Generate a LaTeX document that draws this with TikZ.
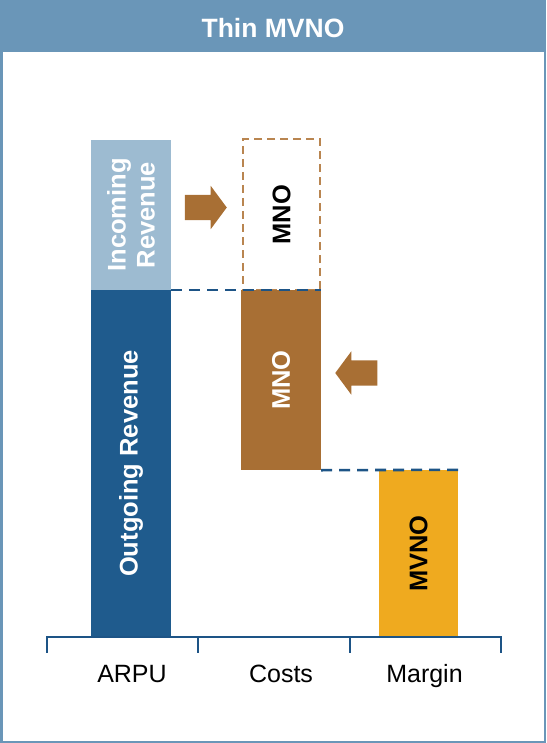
\documentclass[tikz,border=0pt]{standalone}
\usepackage{fontspec}
\setmainfont{Liberation Sans}
\usetikzlibrary{shapes.arrows}

\definecolor{hdrblue}{HTML}{6A96B8}
\definecolor{incblue}{HTML}{9DBBD1}
\definecolor{outblue}{HTML}{1F5B8D}
\definecolor{axisblue}{HTML}{1D5486}
\definecolor{mnobrown}{HTML}{A86F34}
\definecolor{dashbrown}{HTML}{B98550}
\definecolor{mvnoyellow}{HTML}{EFAA1F}

\begin{document}
\begin{tikzpicture}[x=1pt,y=-1pt]

      \tikzset{bar/.style={draw=none, inner sep=0pt, minimum width=80pt},
               bartext/.style={rotate=90, align=center, inner sep=0pt, font=\fontsize{25.5}{29}\selectfont\bfseries},
               push/.style={single arrow, draw=none, fill=mnobrown, inner xsep=0pt, inner ysep=12.5pt,
                            single arrow head extend=9pt, single arrow tip angle=107, minimum height=42pt, anchor=tip},
               level/.style={draw=axisblue, line width=2.6pt, dash pattern=on 11pt off 7pt},
               cat/.style={anchor=base, font=\fontsize{25}{29}\selectfont}}
      \useasboundingbox (0,0) rectangle (546,743);

%% Frame and title
      	\draw[hdrblue, line width=2.5pt] (1.25,1.25) rectangle (544.75,741.75);
      	\fill[hdrblue] (0,0) rectangle (546,52);
      	\node[text=white, font=\fontsize{26.5}{30}\selectfont\bfseries] (title) at (273,28) {Thin MVNO};

%% Bars
      	\node[bar, fill=incblue, minimum height=150pt] (inc) at (131,215) {};
      	\node[bar, fill=outblue, minimum height=347pt] (out) at (131,463.5) {};
      	\node[bar, draw=dashbrown, line width=2pt, dash pattern=on 8pt off 5pt,
      	      minimum width=77pt, minimum height=151pt] (mnoin) at (281.5,214.5) {};
      	\node[bar, fill=mnobrown, minimum height=180pt] (mno) at (281,380) {};
      	\node[bar, fill=mvnoyellow, minimum width=79pt, minimum height=167pt] (mvno) at (418.5,553.5) {};

%% Bar texts
      	\node[bartext, text=white] (inctxt) at (inc.center) {Incoming\\Revenue};
      	\node[bartext, text=white] (outtxt) at (out.center) {Outgoing Revenue};
      	\node[bartext] (mnointxt) at (mnoin.center) {MNO};
      	\node[bartext, text=white] (mnotxt) at (mno.center) {MNO};
      	\node[bartext] (mvnotxt) at (mvno.center) {MVNO};

%% Arrows
      	\node[push] (toright) at (227,207.5) {};
      	\node[push, shape border rotate=180] (toleft) at (335,373) {};

%% Levels
      	\draw[level] (out.north east) -- (mno.north east);
      	\draw[level] (mno.south east) -- (mvno.north east);

%% Axis
      	\draw[axisblue, line width=2.4pt] (47,637) -- (501,637);
      	\foreach \x in {47,198,350,501}
      	  \draw[axisblue, line width=2.4pt] (\x,636) -- (\x,653);
      	\node[cat] (arpu) at (132,682) {ARPU};
      	\node[cat] (costs) at (281,682) {Costs};
      	\node[cat] (margin) at (424.5,682) {Margin};
	\end{tikzpicture}
\end{document}
